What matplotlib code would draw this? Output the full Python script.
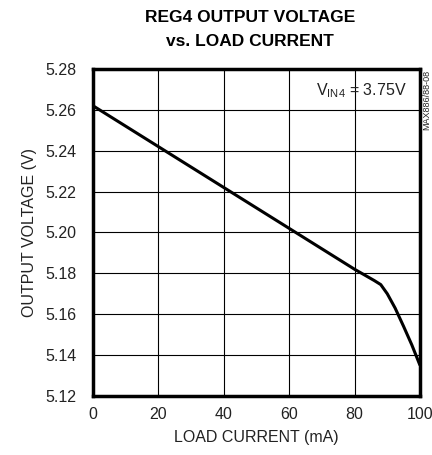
import matplotlib.pyplot as plt
import numpy as np

# curve
load_ma = [0, 20, 40, 60, 80, 86, 88, 90, 92.4, 95, 97.5, 100]
vout = [5.262, 5.242, 5.222, 5.202, 5.182, 5.1765, 5.1745, 5.170, 5.163, 5.154, 5.145, 5.135]

xticks = [0, 20, 40, 60, 80, 100]
yticks = [5.12, 5.14, 5.16, 5.18, 5.20, 5.22, 5.24, 5.26, 5.28]

plt.rcParams['font.family'] = ['Liberation Sans Narrow', 'DejaVu Sans Condensed', 'Liberation Sans']

txt = "#222222"

fig = plt.figure(figsize=(4.32, 4.55), dpi=100)
ax = fig.add_axes([0.2153, 0.1297, 0.7569, 0.7187])

ax.plot(load_ma, vout, color="k", lw=2.2, solid_capstyle="butt", solid_joinstyle="round")

ax.set_xlim(0, 100)
ax.set_ylim(5.12, 5.28)
ax.set_xticks(xticks)
ax.set_yticks(yticks)
ax.set_yticklabels(["%.2f" % v for v in yticks])
ax.grid(True, color="k", lw=0.8)
ax.tick_params(length=0, labelsize=11.5, labelcolor=txt)
ax.tick_params(axis="y", pad=12)
ax.tick_params(axis="x", pad=8)
for s in ax.spines.values():
    s.set_linewidth(2.5)

ax.set_xlabel("LOAD CURRENT (mA)", fontsize=11.5, labelpad=6, color=txt)
ax.set_ylabel("OUTPUT VOLTAGE (V)", fontsize=11.5, labelpad=6, color=txt)

fig.text(0.5786, 0.977, "REG4 OUTPUT VOLTAGE\nvs. LOAD CURRENT", ha="center", va="top",
         fontsize=12.5, fontweight="bold", linespacing=1.7)

ax.text(0.96, 0.935, r"V$_{\mathregular{IN4}}$ = 3.75V", transform=ax.transAxes,
        ha="right", va="center", fontsize=11.5, color=txt)

fig.text(0.989, 0.78, "MAX886/88-08", rotation=90, ha="center", va="center", fontsize=6.5,
         color=txt)

fig.savefig("out.png", dpi=100)
